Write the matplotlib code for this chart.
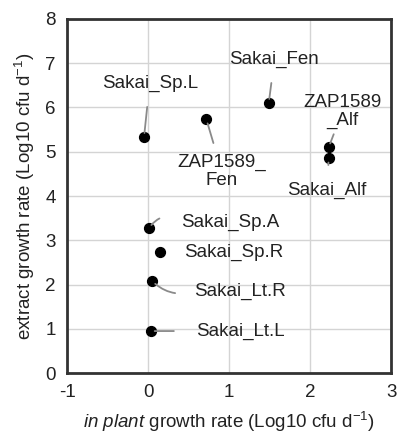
import matplotlib
matplotlib.use("Agg")
import matplotlib.pyplot as plt

plt.rcParams['font.family'] = ['Liberation Sans', 'DejaVu Sans']
plt.rcParams['mathtext.fontset'] = 'custom'
plt.rcParams['mathtext.rm'] = 'Liberation Sans'
plt.rcParams['mathtext.it'] = 'Liberation Sans:italic'
plt.rcParams['axes.unicode_minus'] = False

# data
names = ['Sakai_Sp.L', 'Sakai_Fen', 'ZAP1589_\nFen', 'ZAP1589\n_Alf', 'Sakai_Alf',
         'Sakai_Sp.A', 'Sakai_Sp.R', 'Sakai_Lt.R', 'Sakai_Lt.L']
in_plant = [-0.05, 1.49, 0.72, 2.23, 2.23, 0.01, 0.15, 0.05, 0.03]
extract = [5.33, 6.10, 5.73, 5.10, 4.85, 3.27, 2.73, 2.08, 0.95]

# label placement (data coords) and leader line style
label_xy = [(0.02, 6.55), (1.56, 7.09), (0.91, 4.56), (2.40, 5.91), (2.21, 4.13),
            (1.02, 3.41), (1.06, 2.73), (1.14, 1.85), (1.14, 0.95)]
leader = [True, True, True, True, True, True, False, True, True]
rel = [(0.5, 0.5)] * 5 + [(0, 0.5)] * 4
gap = [9, 9, 6, 2, 10, 14, 0, 12, 14]
curve = [0, 0, 0, 0, 0, 0.5, 0, -0.3, 0]

fig = plt.figure(figsize=(3.97, 4.4), dpi=100)
ax = fig.add_axes([0.169, 0.152, 0.816, 0.805])

ax.scatter(in_plant, extract, s=50, c='black', zorder=3)

for i, name in enumerate(names):
    props = None
    if leader[i]:
        props = dict(arrowstyle='-', color='#8a8a8a', lw=1.3, shrinkA=gap[i], shrinkB=3,
                     relpos=rel[i], connectionstyle='arc3,rad=%s' % curve[i])
    ax.annotate(name, xy=(in_plant[i], extract[i]), xytext=label_xy[i], ha='center', va='center',
                fontsize=13.5, color='#222222', multialignment='center',
                linespacing=1.05, arrowprops=props)

ax.set_xlim(-1, 3)
ax.set_ylim(0, 8)
ax.set_xticks([-1, 0, 1, 2, 3])
ax.set_yticks(range(0, 9))
ax.grid(True, color='#d4d4d4', lw=1)
ax.set_axisbelow(True)
ax.tick_params(length=0, labelsize=13.5, pad=8, colors='#222222')
for sp in ax.spines.values():
    sp.set_linewidth(2)
    sp.set_color('#333333')

ax.set_xlabel(r'$\mathit{in\ plant}$ growth rate (Log10 cfu d$^{-1}$)', fontsize=13.5, labelpad=6, color='#222222')
ax.set_ylabel(r'extract growth rate (Log10 cfu d$^{-1}$)', fontsize=13.5, labelpad=6, color='#222222')

fig.savefig('out.png', dpi=100)
